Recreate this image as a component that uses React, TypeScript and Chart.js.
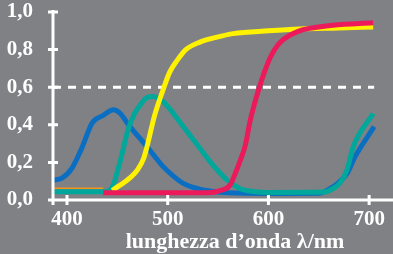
import React, { useEffect, useRef } from "react";
import { Chart, registerables } from "chart.js";

Chart.register(...registerables);

// ---- data (wavelength in nm, value) ----
const blueWl = [386, 395, 405, 415, 425, 436, 446, 453, 461, 472, 480, 495, 505, 515, 530, 545, 560, 600, 650, 661, 669, 678, 686, 705];
const blueVal = [0.105, 0.117, 0.17, 0.28, 0.41, 0.45, 0.48, 0.46, 0.4, 0.33, 0.28, 0.18, 0.13, 0.09, 0.06, 0.045, 0.038, 0.035, 0.036, 0.06, 0.09, 0.14, 0.23, 0.39];

const tealWl = [386, 436, 445, 452, 461, 467, 472, 478, 485, 495, 505, 512, 522, 532, 545, 559, 572, 585, 600, 655, 664, 671, 678, 684, 704];
const tealVal = [0.044, 0.044, 0.07, 0.19, 0.38, 0.46, 0.5, 0.54, 0.55, 0.525, 0.465, 0.415, 0.345, 0.275, 0.185, 0.106, 0.06, 0.045, 0.04, 0.042, 0.06, 0.09, 0.16, 0.28, 0.46];

const yellowWl = [445, 450, 456, 463, 470, 476, 479, 487, 495, 502, 509, 518, 532, 548, 565, 600, 631, 670, 704];
const yellowVal = [0.05, 0.07, 0.09, 0.12, 0.16, 0.22, 0.275, 0.45, 0.58, 0.68, 0.74, 0.8, 0.84, 0.865, 0.885, 0.9, 0.91, 0.915, 0.92];

const magentaWl = [436, 540, 552, 562, 567, 572, 577, 582, 591, 596, 602, 612, 631, 650, 664, 704];
const magentaVal = [0.038, 0.038, 0.05, 0.08, 0.14, 0.21, 0.29, 0.425, 0.6, 0.68, 0.76, 0.84, 0.9, 0.92, 0.93, 0.943];

const orangeWl = [386, 436];
const orangeVal = [0.062, 0.062];

const xTicks = [400, 500, 600, 700];
const yTicks = [0, 0.2, 0.4, 0.6, 0.8, 1.0];
const refValue = 0.6;
const refEnd = 705;
const xTitle = "lunghezza d\u2019onda \u03bb/nm";

const BG = "#808185";
const FONT = '"Liberation Serif", "Times New Roman", serif';

const pts = (xs: number[], ys: number[]) => xs.map((x, i) => ({ x, y: ys[i] }));

const axesPlugin = {
  id: "customAxes",
  beforeDatasetsDraw(chart: any) {
    const { ctx, chartArea, scales } = chart;
    const x = scales.x;
    const y = scales.y;
    ctx.save();
    ctx.strokeStyle = "#ffffff";
    ctx.lineWidth = 3;
    ctx.setLineDash([8, 7]);
    const py = y.getPixelForValue(refValue);
    ctx.beginPath();
    ctx.moveTo(chartArea.left, py);
    ctx.lineTo(x.getPixelForValue(refEnd), py);
    ctx.stroke();
    ctx.restore();
  },
  afterDatasetsDraw(chart: any) {
    const { ctx, chartArea, scales } = chart;
    const x = scales.x;
    const y = scales.y;
    ctx.save();
    ctx.strokeStyle = "#ffffff";
    ctx.lineWidth = 3;
    ctx.lineCap = "butt";
    ctx.beginPath();
    ctx.moveTo(chartArea.left, chartArea.top - 2);
    ctx.lineTo(chartArea.left, chartArea.bottom + 5);
    ctx.moveTo(chartArea.left - 5, chartArea.bottom);
    ctx.lineTo(chartArea.right, chartArea.bottom);
    yTicks.forEach((v) => {
      const p = y.getPixelForValue(v);
      ctx.moveTo(chartArea.left - 5, p);
      ctx.lineTo(chartArea.left + 5, p);
    });
    xTicks.forEach((v) => {
      const p = x.getPixelForValue(v);
      ctx.moveTo(p, chartArea.bottom - 5);
      ctx.lineTo(p, chartArea.bottom + 5);
    });
    ctx.stroke();
    ctx.restore();
  },
  afterDraw(chart: any) {
    const { ctx, chartArea } = chart;
    ctx.save();
    ctx.fillStyle = "#ffffff";
    ctx.font = "bold 22px " + FONT;
    ctx.textAlign = "center";
    ctx.textBaseline = "alphabetic";
    ctx.fillText(xTitle, (chartArea.left + chartArea.right) / 2 + 12, chartArea.bottom + 48);
    ctx.restore();
  },
};

const tickFont = { family: FONT, weight: "bold" as const, size: 21 };

export default function App() {
  const ref = useRef<HTMLCanvasElement>(null);
  useEffect(() => {
    if (!ref.current) return;
    const line = (data: any, color: string, order: number, width = 5) => ({
      data,
      borderColor: color,
      backgroundColor: color,
      borderWidth: width,
      pointRadius: 0,
      fill: false,
      cubicInterpolationMode: "monotone" as const,
      order,
    });
    const chart = new Chart(ref.current, {
      type: "line",
      data: {
        datasets: [
          line(pts(magentaWl, magentaVal), "#EC1A5A", 0),
          line(pts(yellowWl, yellowVal), "#FFF200", 1),
          line(pts(tealWl, tealVal), "#00A79A", 2),
          line(pts(blueWl, blueVal), "#0A6EC2", 3),
          line(pts(orangeWl, orangeVal), "#F7941D", 4, 1.5),
        ],
      },
      options: {
        animation: false,
        responsive: false,
        layout: { padding: { top: 12, left: 0, right: 0, bottom: 0 } },
        plugins: { legend: { display: false }, tooltip: { enabled: false }, title: { display: false } },
        scales: {
          x: {
            type: "linear",
            min: 386.1,
            max: 723.7,
            grid: { display: false, drawTicks: false },
            border: { display: false },
            afterFit: (s: any) => {
              s.height = 54;
              s.paddingLeft = 0;
              s.paddingRight = 0;
              s.paddingTop = 0;
              s.paddingBottom = 0;
            },
            afterBuildTicks: (s: any) => {
              s.ticks = xTicks.map((v) => ({ value: v }));
            },
            ticks: { color: "#ffffff", font: tickFont, padding: 7, maxRotation: 0, autoSkip: false },
          },
          y: {
            type: "linear",
            min: 0,
            max: 1,
            grid: { display: false, drawTicks: false },
            border: { display: false },
            afterFit: (s: any) => {
              s.width = 53;
              s.paddingLeft = 0;
              s.paddingRight = 0;
              s.paddingTop = 0;
              s.paddingBottom = 0;
            },
            afterBuildTicks: (s: any) => {
              s.ticks = yTicks.map((v) => ({ value: v }));
            },
            ticks: {
              color: "#ffffff",
              font: tickFont,
              padding: 20,
              autoSkip: false,
              callback: (v: any) => Number(v).toFixed(1).replace(".", ","),
            },
          },
        },
      },
      plugins: [axesPlugin],
    });
    return () => chart.destroy();
  }, []);
  return (
    <div style={{ position: "fixed", left: 0, top: 0, width: 393, height: 254, background: BG }}>
      <canvas ref={ref} width={393} height={254} style={{ display: "block", width: 393, height: 254 }} />
    </div>
  );
}
